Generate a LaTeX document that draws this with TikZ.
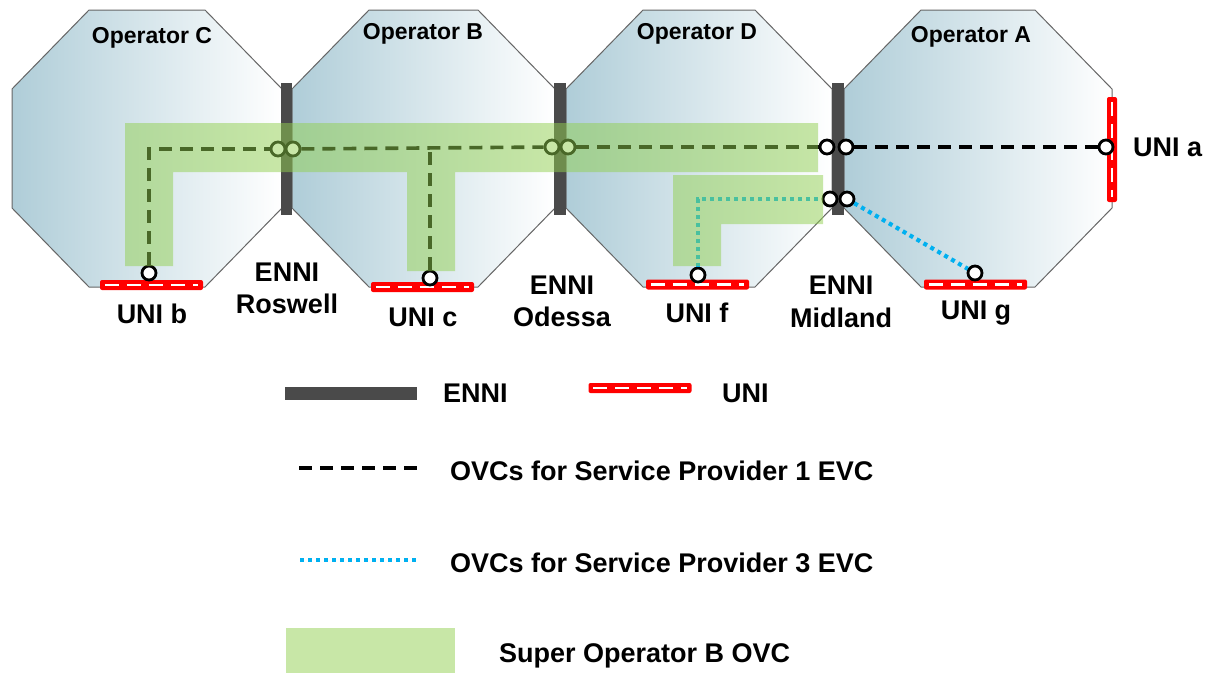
\documentclass[tikz,border=0pt]{standalone}
\usepackage{fontspec}
\setmainfont{Liberation Sans}

\definecolor{ennigray}{HTML}{4A4A4A}
\definecolor{unired}{HTML}{FF0000}
\definecolor{opblue}{HTML}{AFCDD8}
\definecolor{spcyan}{HTML}{00B0F0}
\definecolor{ovcgreen}{HTML}{92D050}

\tikzset{
  operator/.style={draw=black!60, line width=1pt, left color=opblue, right color=white},
  ennibar/.style={fill=ennigray, inner sep=0pt, minimum width=11pt, minimum height=132pt},
  unibar/.style={fill=unired, rounded corners=2pt, inner sep=0pt},
  unih/.style={unibar, minimum width=103pt, minimum height=10pt},
  univ/.style={unibar, minimum width=10pt, minimum height=105pt},
  unidash/.style={white, line width=2.6pt, dash pattern=on 14pt off 8pt},
  port/.style={circle, draw=black, fill=white, line width=2.8pt, inner sep=0pt, minimum size=14pt},
  spone/.style={black, line width=3.6pt, dash pattern=on 13pt off 8pt},
  spthree/.style={spcyan, line width=4.2pt, dash pattern=on 4pt off 4pt},
  superovc/.style={fill=ovcgreen, fill opacity=0.5},
  oplabel/.style={font=\fontsize{23}{26}\selectfont\bfseries, anchor=base, inner sep=0pt},
  biglabel/.style={font=\fontsize{27}{30}\selectfont\bfseries, anchor=base, inner sep=0pt},
}

\begin{document}
\begin{tikzpicture}[x=1pt, y=-1pt]
  \useasboundingbox (0,0) rectangle (1208,673);

  % operator domains
  \foreach \xl/\xr/\lx/\ly/\op in {12/282/152/43/C, 292/555/423/39/B, 566/832/697/39/D, 844/1112/971/42/A} {
    \draw[operator] (\xl+77,10) -- (\xr-77,10) -- (\xr,89) -- (\xr,208) -- (\xr-77,287)
      -- (\xl+77,287) -- (\xl,208) -- (\xl,89) -- cycle;
    \node[oplabel] (op\op) at (\lx,\ly) {Operator \op};
  }

  % ENNIs
  \node[ennibar] (roswell) at (286.5,149) {};
  \node[ennibar, minimum width=12pt] (odessa) at (560,149) {};
  \node[ennibar, minimum width=12pt] (midland) at (838,149) {};

  % UNIs
  \node[unih] (unib) at (151.5,285) {};
  \node[unih] (unic) at (422.5,287) {};
  \node[unih] (unif) at (697.5,284.5) {};
  \node[unih] (unig) at (975.5,284.5) {};
  \node[univ] (unia) at (1112,149.5) {};
  \node[unih] (luni) at (640,388) {};
  \foreach \u in {unib,unic,unif,unig,luni} {
    \draw[unidash] ([xshift=5pt]\u.west) -- ([xshift=-5pt]\u.east);
  }
  \draw[unidash] ([yshift=-5pt]unia.north) -- ([yshift=5pt]unia.south);

  % OVC end points
  \node[port] (pb) at (149,273) {};
  \node[port] (pc) at (430,278) {};
  \node[port] (pf) at (698,275) {};
  \node[port] (pg) at (975,273) {};
  \node[port] (pa) at (1106,147) {};
  \node[port] (r1) at (278,149) {};
  \node[port] (r2) at (293,149) {};
  \node[port] (o1) at (552,147) {};
  \node[port] (o2) at (568,147) {};
  \node[port] (m1) at (827,147) {};
  \node[port] (m2) at (846,147) {};
  \node[port] (m3) at (830,199) {};
  \node[port] (m4) at (847,199) {};

  % service provider 1
  \draw[spone] (pb) |- (r1);
  \draw[spone] (r2) -- (o1);
  \draw[spone] (pc) -- (pc |- r2);
  \draw[spone] (o2) -- (m1);
  \draw[spone] (m2) -- (pa);
  % service provider 3
  \draw[spthree] (pf) |- (m3);
  \draw[spthree] (m4) -- (pg);

  % super operator B
  \fill[superovc] (125,123) -- (818,123) -- (818,172) -- (455,172) -- (455,271) -- (407,271)
    -- (407,172) -- (173,172) -- (173,266) -- (125,266) -- cycle;
  \fill[superovc] (673,175) -- (823,175) -- (823,224) -- (721,224) -- (721,266) -- (673,266) -- cycle;

  % labels
  \node[biglabel] (lb) at (152,323) {UNI b};
  \node[biglabel] (lc) at (423,326) {UNI c};
  \node[biglabel] (lf) at (697,322) {UNI f};
  \node[biglabel] (lg) at (976,319) {UNI g};
  \node[biglabel, anchor=base west] (la) at (1133,156) {UNI a};
  \node[biglabel] (lrosa) at (287,281) {ENNI};
  \node[biglabel] (lrosb) at (287,313) {Roswell};
  \node[biglabel] (lodea) at (562,294) {ENNI};
  \node[biglabel] (lodeb) at (562,326) {Odessa};
  \node[biglabel] (lmida) at (841,294) {ENNI};
  \node[biglabel] (lmidb) at (841,327) {Midland};

  % legend
  \node[ennibar, minimum width=132pt, minimum height=13pt] (lenni) at (351,393.5) {};
  \node[biglabel, anchor=base west] (lennitext) at (443,402) {ENNI};
  \node[biglabel, anchor=base west] (lunitext) at (722,402) {UNI};
  \coordinate (lspa) at (299,468);
  \coordinate (lspb) at (419,468);
  \draw[spone] (lspa) -- (lspb);
  \node[biglabel, anchor=base west] (lsponetext) at (450,480) {OVCs for Service Provider 1 EVC};
  \coordinate (lspc) at (300,560);
  \coordinate (lspd) at (418,560);
  \draw[spthree] (lspc) -- (lspd);
  \node[biglabel, anchor=base west] (lspthreetext) at (450,572) {OVCs for Service Provider 3 EVC};
  \fill[superovc] (286,628) rectangle (455,673);
  \node[biglabel, anchor=base west] (lsupertext) at (499,662) {Super Operator B OVC};
\end{tikzpicture}
\end{document}
